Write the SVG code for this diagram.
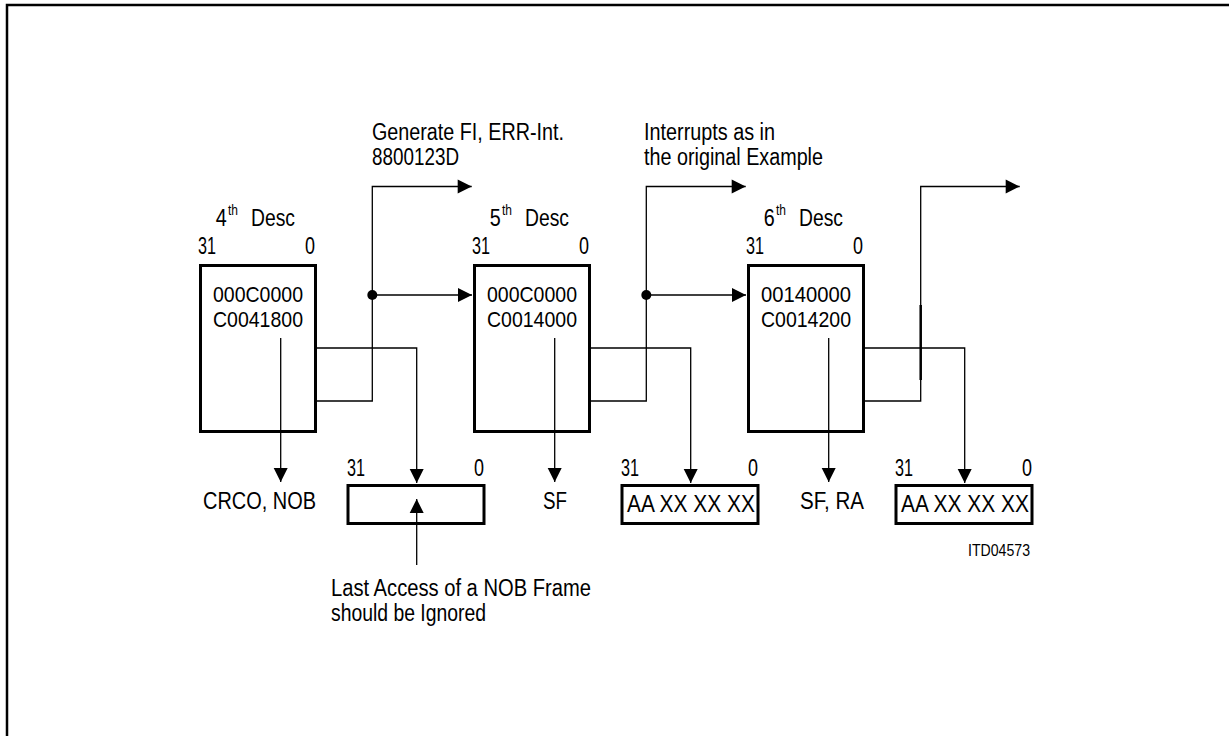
<svg xmlns="http://www.w3.org/2000/svg" width="1229" height="736" viewBox="0 0 1229 736">
<defs>
<style>
text{font-family:"Liberation Sans",Arial,sans-serif;font-size:23.5px;fill:#000}
.sup{font-size:15px}
.small{font-size:16.5px}
.reg{font-size:22px}
.box{fill:none;stroke:#000;stroke-width:3}
.ln{fill:none;stroke:#000;stroke-width:1.3}
.frame{fill:none;stroke:#000;stroke-width:2.5}
</style>
<marker id="ah" markerUnits="userSpaceOnUse" markerWidth="14" markerHeight="14" viewBox="0 0 14 14" refX="14" refY="7" orient="auto" overflow="visible">
<path d="M0,0 L14,7 L0,14 Z" fill="#000"/>
</marker>
</defs>
<rect width="1229" height="736" fill="#fff"/>
<path class="frame" d="M7,736 V5 H1229"/>

<g id="connectors">
<path class="ln" d="M280.7,338 V482" marker-end="url(#ah)"/>
<path class="ln" d="M317,348 H416.7 V483" marker-end="url(#ah)"/>
<path class="ln" d="M317,401 H372.3 V186.5 H471.7" marker-end="url(#ah)"/>
<path class="ln" d="M372.3,295 H472" marker-end="url(#ah)"/>
<circle cx="372.3" cy="295" r="5"/>
<path class="ln" d="M416.7,565 V499" marker-end="url(#ah)"/>

<path class="ln" d="M554.7,338 V482" marker-end="url(#ah)"/>
<path class="ln" d="M591,348 H690.7 V483" marker-end="url(#ah)"/>
<path class="ln" d="M591,401 H646.3 V186.5 H745.7" marker-end="url(#ah)"/>
<path class="ln" d="M646.3,295 H746" marker-end="url(#ah)"/>
<circle cx="646.3" cy="295" r="5"/>

<path class="ln" d="M828.7,338 V482" marker-end="url(#ah)"/>
<path class="ln" d="M865,348 H964.7 V483" marker-end="url(#ah)"/>
<path class="ln" d="M865,401 H920.7 V186.5 H1019.7" marker-end="url(#ah)"/>
<path d="M920.7,305 V380" stroke="#000" stroke-width="2.5"/>
</g>

<g id="labels-top">
<text x="372" y="140" textLength="192" lengthAdjust="spacingAndGlyphs">Generate FI, ERR-Int.</text>
<text x="372" y="165" textLength="87" lengthAdjust="spacingAndGlyphs">8800123D</text>
<text x="644" y="140" textLength="131" lengthAdjust="spacingAndGlyphs">Interrupts as in</text>
<text x="644" y="165" textLength="179" lengthAdjust="spacingAndGlyphs">the original Example</text>
</g>

<g id="desc4">
<text x="215.7" y="226" textLength="11" lengthAdjust="spacingAndGlyphs">4</text>
<text class="sup" x="228" y="215" textLength="10" lengthAdjust="spacingAndGlyphs">th</text>
<text x="251" y="226" textLength="44" lengthAdjust="spacingAndGlyphs">Desc</text>
<text x="198" y="254" textLength="18" lengthAdjust="spacingAndGlyphs">31</text>
<text x="305" y="254" textLength="10" lengthAdjust="spacingAndGlyphs">0</text>
<rect class="box" x="200.5" y="265.5" width="115" height="166"/>
<text class="reg" x="213" y="302" textLength="90" lengthAdjust="spacingAndGlyphs">000C0000</text>
<text class="reg" x="213" y="327" textLength="90" lengthAdjust="spacingAndGlyphs">C0041800</text>
</g>

<g id="desc5">
<text x="489.7" y="226" textLength="11" lengthAdjust="spacingAndGlyphs">5</text>
<text class="sup" x="502" y="215" textLength="10" lengthAdjust="spacingAndGlyphs">th</text>
<text x="525" y="226" textLength="44" lengthAdjust="spacingAndGlyphs">Desc</text>
<text x="472" y="254" textLength="18" lengthAdjust="spacingAndGlyphs">31</text>
<text x="579" y="254" textLength="10" lengthAdjust="spacingAndGlyphs">0</text>
<rect class="box" x="474.5" y="265.5" width="115" height="166"/>
<text class="reg" x="487" y="302" textLength="90" lengthAdjust="spacingAndGlyphs">000C0000</text>
<text class="reg" x="487" y="327" textLength="90" lengthAdjust="spacingAndGlyphs">C0014000</text>
</g>

<g id="desc6">
<text x="763.7" y="226" textLength="11" lengthAdjust="spacingAndGlyphs">6</text>
<text class="sup" x="776" y="215" textLength="10" lengthAdjust="spacingAndGlyphs">th</text>
<text x="799" y="226" textLength="44" lengthAdjust="spacingAndGlyphs">Desc</text>
<text x="746" y="254" textLength="18" lengthAdjust="spacingAndGlyphs">31</text>
<text x="853" y="254" textLength="10" lengthAdjust="spacingAndGlyphs">0</text>
<rect class="box" x="748.5" y="265.5" width="115" height="166"/>
<text class="reg" x="761" y="302" textLength="90" lengthAdjust="spacingAndGlyphs">00140000</text>
<text class="reg" x="761" y="327" textLength="90" lengthAdjust="spacingAndGlyphs">C0014200</text>
</g>

<g id="status4">
<text x="203" y="509" textLength="113" lengthAdjust="spacingAndGlyphs">CRCO, NOB</text>
</g>
<g id="status5">
<text x="543" y="509" textLength="24" lengthAdjust="spacingAndGlyphs">SF</text>
</g>
<g id="status6">
<text x="800" y="509" textLength="64" lengthAdjust="spacingAndGlyphs">SF, RA</text>
</g>

<g id="buf4">
<text x="347" y="476" textLength="18" lengthAdjust="spacingAndGlyphs">31</text>
<text x="474" y="476" textLength="10" lengthAdjust="spacingAndGlyphs">0</text>
<rect class="box" x="348" y="485.5" width="136" height="38"/>
</g>
<g id="buf5">
<text x="621" y="476" textLength="18" lengthAdjust="spacingAndGlyphs">31</text>
<text x="748" y="476" textLength="10" lengthAdjust="spacingAndGlyphs">0</text>
<rect class="box" x="622" y="485.5" width="136" height="38"/>
<text x="627" y="512" textLength="128" lengthAdjust="spacingAndGlyphs">AA XX XX XX</text>
</g>
<g id="buf6">
<text x="895" y="476" textLength="18" lengthAdjust="spacingAndGlyphs">31</text>
<text x="1022" y="476" textLength="10" lengthAdjust="spacingAndGlyphs">0</text>
<rect class="box" x="896" y="485.5" width="136" height="38"/>
<text x="901" y="512" textLength="128" lengthAdjust="spacingAndGlyphs">AA XX XX XX</text>
</g>

<g id="note">
<text x="331" y="596" textLength="260" lengthAdjust="spacingAndGlyphs">Last Access of a NOB Frame</text>
<text x="331" y="621" textLength="155" lengthAdjust="spacingAndGlyphs">should be Ignored</text>
</g>

<g id="figid">
<text class="small" x="968" y="556" textLength="62" lengthAdjust="spacingAndGlyphs">ITD04573</text>
</g>
</svg>
